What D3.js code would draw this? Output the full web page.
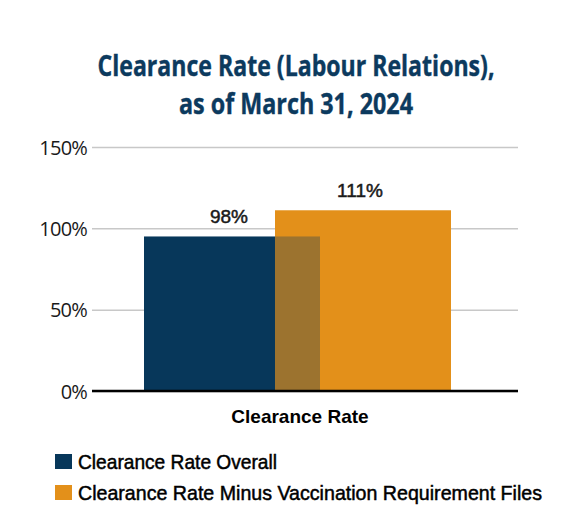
<!DOCTYPE html>
<html>
<head>
<meta charset="utf-8">
<script src="https://cdn.jsdelivr.net/npm/d3@7"></script>
<style>
  html, body { margin: 0; padding: 0; background: #fff; }
  svg { display: block; }
</style>
</head>
<body>
<div id="chart"></div>
<script>
// chart data
const titleLines = ['Clearance Rate (Labour Relations),', 'as of March 31, 2024'];
const category = 'Clearance Rate';
const seriesNames = ['Clearance Rate Overall', 'Clearance Rate Minus Vaccination Requirement Files'];
const barValues = [95, 111];          // bar heights as drawn
const barLabels = ['98%', '111%'];    // printed value labels
const yTicks = [0, 50, 100, 150];
const colors = ['#07375a', '#e3901a'];

const width = 578, height = 526;
const margin = { left: 92, right: 60, top: 147, bottom: 135 };

const svg = d3.select('#chart').append('svg')
    .attr('width', width)
    .attr('height', height);

// title
svg.selectAll('text.title')
    .data(titleLines)
    .enter().append('text')
    .attr('class', 'title')
    .attr('x', 296)
    .attr('y', (d, i) => 76 + i * 38)
    .attr('text-anchor', 'middle')
    .attr('fill', '#0c3a5e')
    .attr('stroke', '#0c3a5e')
    .attr('stroke-width', 0.4)
    .style('font-family', '"Open Sans", sans-serif')
    .style('font-weight', 'bold')
    .style('font-size', '28px')
    .attr('textLength', (d, i) => i === 0 ? 397 : 234)
    .attr('lengthAdjust', 'spacingAndGlyphs')
    .text(d => d);

const y = d3.scaleLinear()
    .domain([0, 150])
    .range([height - margin.bottom, margin.top]);

const x0 = d3.scaleBand()
    .domain([category])
    .range([margin.left, width - margin.right]);

// the two bars overlap, so place their centres with a point scale
const x1 = d3.scalePoint()
    .domain(seriesNames)
    .range([232, 363]);
const barWidth = 176;

// grid + tick labels
const yAxis = svg.append('g')
    .attr('transform', `translate(${margin.left},0)`)
    .call(d3.axisLeft(y).tickValues(yTicks).tickSize(-(width - margin.left - margin.right)).tickFormat(d => d + '%').tickPadding(5));
yAxis.select('.domain').remove();
yAxis.selectAll('.tick line')
    .attr('stroke', '#c8c8c8')
    .attr('stroke-width', 1.5);
yAxis.selectAll('.tick text')
    .attr('fill', '#1a1a1a')
    .attr('dy', '0.35em')
    .style('font-family', '"Open Sans", sans-serif')
    .style('font-size', '20px')
    .style('letter-spacing', '-0.8px');

// bars: orange first, blue on top, then orange again half see-through
const order = [1, 0];
const bars = svg.append('g');
bars.selectAll('rect.bar')
    .data(order)
    .enter().append('rect')
    .attr('class', 'bar')
    .attr('x', i => x1(seriesNames[i]) - barWidth / 2)
    .attr('y', i => y(barValues[i]))
    .attr('width', barWidth)
    .attr('height', i => y(0) - y(barValues[i]))
    .attr('fill', i => colors[i]);

bars.append('rect')
    .attr('x', x1(seriesNames[1]) - barWidth / 2)
    .attr('y', y(barValues[1]))
    .attr('width', barWidth)
    .attr('height', y(0) - y(barValues[1]))
    .attr('fill', colors[1])
    .attr('opacity', 0.68);

// value labels
svg.selectAll('text.value')
    .data(seriesNames)
    .enter().append('text')
    .attr('class', 'value')
    .attr('x', d => x1(d) - 3)
    .attr('y', (d, i) => y(barValues[i]) - 13)
    .attr('text-anchor', 'middle')
    .attr('fill', '#1a1a1a')
    .attr('stroke', '#1a1a1a')
    .attr('stroke-width', 0.5)
    .style('font-family', '"Liberation Sans", Arial, sans-serif')
    .style('font-size', '19px')
    .text((d, i) => barLabels[i]);

// baseline
svg.append('line')
    .attr('x1', margin.left)
    .attr('x2', width - margin.right)
    .attr('y1', y(0))
    .attr('y2', y(0))
    .attr('stroke', '#000')
    .attr('stroke-width', 2.5);

// category label
svg.append('text')
    .attr('x', x0(category) + x0.bandwidth() / 2 - 5)
    .attr('y', 423)
    .attr('text-anchor', 'middle')
    .attr('fill', '#000')
    .style('font-family', '"Liberation Sans", Arial, sans-serif')
    .style('font-weight', 'bold')
    .style('font-size', '19px')
    .text(category);

// legend
const legend = svg.selectAll('g.legend')
    .data(seriesNames)
    .enter().append('g')
    .attr('class', 'legend')
    .attr('transform', (d, i) => `translate(55, ${454 + i * 31})`);

legend.append('rect')
    .attr('width', 17)
    .attr('height', 15)
    .attr('fill', (d, i) => colors[i]);

legend.append('text')
    .attr('x', 23)
    .attr('y', 15)
    .attr('fill', '#000')
    .attr('stroke', '#000')
    .attr('stroke-width', 0.5)
    .style('font-family', '"Liberation Sans Narrow", "Liberation Sans", Arial, sans-serif')
    .style('font-size', '21px')
    .attr('textLength', (d, i) => i === 0 ? 199 : 464)
    .attr('lengthAdjust', 'spacingAndGlyphs')
    .text(d => d);
</script>
</body>
</html>
